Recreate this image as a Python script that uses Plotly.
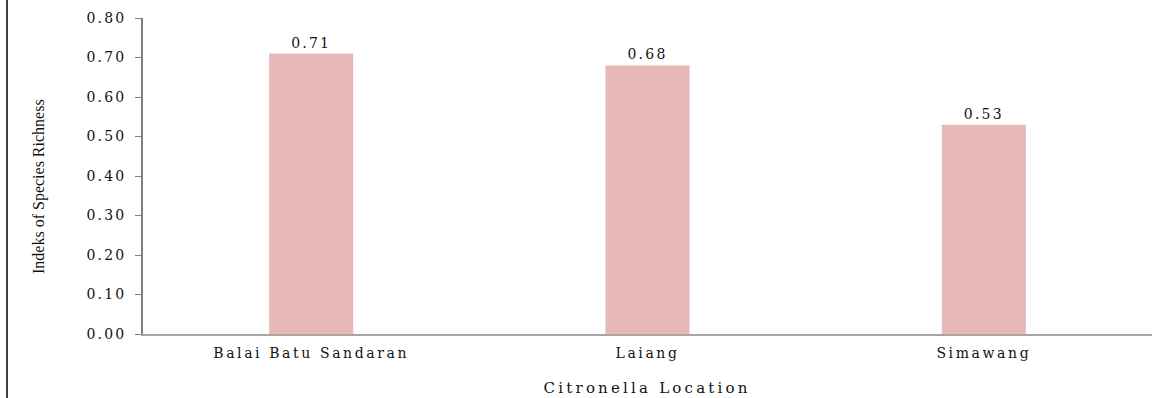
import plotly.graph_objects as go

# Species richness index per citronella location
locations = ["Balai Batu Sandaran", "Laiang", "Simawang"]
richness = [0.71, 0.68, 0.53]
y_ticks = [0.0, 0.1, 0.2, 0.3, 0.4, 0.5, 0.6, 0.7, 0.8]
y_tick_text = [f"{v:.2f}" for v in y_ticks]

W, H = 1162, 398
ML, MR, MT, MB = 143, 10, 18, 64
plot_w = W - ML - MR
plot_h = H - MT - MB

serif = "DejaVu Serif"
ink = "#111111"

fig = go.Figure(
    go.Bar(
        x=locations,
        y=richness,
        marker=dict(color="#E6B8B7", line=dict(width=0)),
        text=[f"{v:.2f}" for v in richness],
        textposition="outside",
        textfont=dict(family=serif, size=14, color=ink),
        cliponaxis=False,
    )
)

fig.update_layout(
    width=W,
    height=H,
    margin=dict(l=ML, r=MR, t=MT, b=MB, autoexpand=False),
    paper_bgcolor="white",
    plot_bgcolor="white",
    bargap=0.75,
    showlegend=False,
    font=dict(family=serif, color=ink),
)

fig.update_xaxes(
    automargin=False,
    showgrid=False,
    showline=True,
    linecolor="#A6A6A6",
    linewidth=1.5,
    ticks="",
    ticklabelstandoff=5,
    tickfont=dict(family=serif, size=14, color=ink),
)

fig.update_yaxes(
    automargin=False,
    range=[0, 0.8],
    tickvals=y_ticks,
    ticktext=y_tick_text,
    showgrid=False,
    zeroline=False,
    showline=True,
    linecolor="#808080",
    linewidth=1.5,
    ticks="outside",
    ticklen=6,
    tickcolor="#808080",
    tickwidth=1,
    ticklabelstandoff=6,
    tickfont=dict(family=serif, size=14, color=ink),
)

# Axis titles as annotations placed in paper coords
fig.add_annotation(
    text="Indeks of Species Richness",
    textangle=-90,
    xref="paper",
    yref="paper",
    x=(39 - ML) / plot_w,
    y=1 - (187 - MT) / plot_h,
    xanchor="center",
    yanchor="middle",
    showarrow=False,
    font=dict(family="Liberation Serif", size=16, color=ink),
)
fig.add_annotation(
    text="Citronella Location",
    xref="paper",
    yref="paper",
    x=0.5,
    y=1 - (388 - MT) / plot_h,
    xanchor="center",
    yanchor="middle",
    showarrow=False,
    font=dict(family=serif, size=15, color=ink),
)

# Thin frame line at the left edge of the figure
fig.add_shape(
    type="line",
    xref="paper",
    yref="paper",
    x0=(7 - ML) / plot_w,
    x1=(7 - ML) / plot_w,
    y0=-MB / plot_h,
    y1=1 + MT / plot_h,
    line=dict(color="black", width=1.5),
)

# Wider letter spacing for the horizontal serif labels
spacing_js = """
var gd = document.getElementsByClassName('plotly-graph-div')[0];
function spread(sel, px) {
  gd.querySelectorAll(sel).forEach(function (t) { t.style.letterSpacing = px; });
}
spread('.xtick text', '2.6px');
spread('.ytick text', '2.2px');
spread('text.bartext', '2.2px');
gd.querySelectorAll('.annotation-text').forEach(function (t) {
  if (t.textContent === 'Citronella Location') { t.style.letterSpacing = '3.2px'; }
});
"""

fig.write_html("out.html", post_script=spacing_js)
